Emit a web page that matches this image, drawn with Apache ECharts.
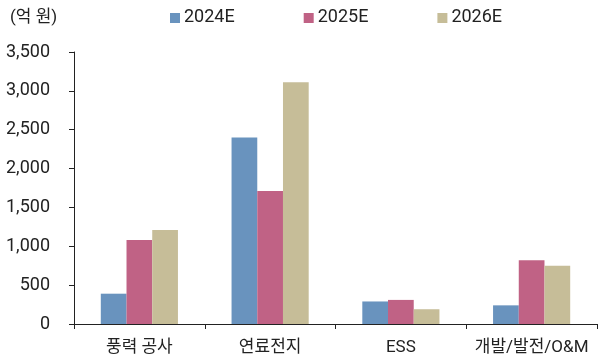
<!DOCTYPE html>
<html>
<head>
<meta charset="utf-8">
<script src="https://cdn.jsdelivr.net/npm/echarts@6/dist/echarts.min.js"></script>
<style>
  html, body { margin: 0; padding: 0; background: #fff; }
  #chart { width: 598px; height: 363px; }
</style>
</head>
<body>
<div id="chart"></div>
<script>
var categories = ['풍력 공사', '연료전지', 'ESS', '개발/발전/O&M'];
var seriesNames = ['2024E', '2025E', '2026E'];
var v2024 = [390, 2400, 290, 240];
var v2025 = [1080, 1710, 310, 820];
var v2026 = [1210, 3110, 190, 750];
var colors = ['#6993be', '#c06285', '#c6bd98'];

var chart = echarts.init(document.getElementById('chart'));
var font = 'Roboto, "Noto Sans CJK KR", sans-serif';

function bar(name, data, color) {
    return {
        name: name,
        type: 'bar',
        data: data,
        barGap: '0%',
        barCategoryGap: '41%',
        itemStyle: { color: color }
    };
}

chart.setOption({
    animation: false,
    color: colors,
    textStyle: { fontFamily: font },
    graphic: [{
        type: 'text',
        left: 10,
        top: 9,
        style: { text: '(억 원)', fontSize: 17, fill: '#222', fontFamily: font }
    }],
    legend: {
        top: 9,
        left: 170,
        padding: 0,
        itemWidth: 10,
        itemHeight: 10,
        itemGap: 69,
        icon: 'rect',
        textStyle: { fontSize: 18, color: '#222', fontFamily: font, padding: [0, 0, 0, -1] },
        data: seriesNames
    },
    grid: { left: 74, right: 1, top: 52, bottom: 39 },
    xAxis: {
        type: 'category',
        data: categories,
        axisLine: { lineStyle: { color: '#222', width: 1 } },
        axisTick: { show: true, length: 5, lineStyle: { color: '#222' } },
        axisLabel: { fontSize: 17, color: '#222', margin: 15, interval: 0 }
    },
    yAxis: {
        type: 'value',
        min: 0,
        max: 3500,
        interval: 500,
        splitLine: { show: false },
        axisLine: { show: true, lineStyle: { color: '#222', width: 1 } },
        axisTick: { show: true, length: 5, lineStyle: { color: '#222' } },
        axisLabel: {
            fontSize: 18,
            color: '#222',
            margin: 24,
            formatter: function (v) { return v.toLocaleString('en-US'); }
        }
    },
    series: [
        bar(seriesNames[0], v2024, colors[0]),
        bar(seriesNames[1], v2025, colors[1]),
        bar(seriesNames[2], v2026, colors[2])
    ]
});
</script>
</body>
</html>
